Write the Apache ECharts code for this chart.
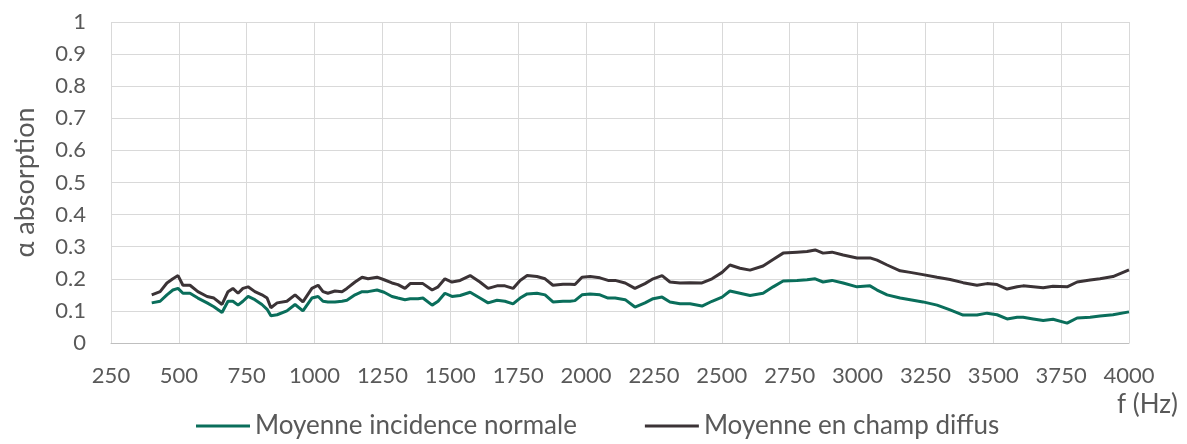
<!DOCTYPE html>
<html>
<head>
<meta charset="utf-8">
<script src="https://cdn.jsdelivr.net/npm/echarts@6/dist/echarts.min.js"></script>
<style>html,body{margin:0;padding:0;background:#fff}#c{width:1187px;height:444px}</style>
</head>
<body>
<div id="c"></div>
<script>
const freqs = [400,431,456,478,497,515,541,570,604,629,659,681,699,718,736,755,780,806,825,839,862,898,928,957,990,1013,1031,1049,1075,1101,1119,1149,1175,1197,1230,1256,1285,1307,1333,1352,1381,1399,1433,1455,1480,1506,1536,1573,1609,1639,1672,1701,1731,1757,1783,1819,1849,1878,1915,1941,1959,1985,2015,2051,2081,2107,2144,2180,2217,2247,2280,2309,2346,2383,2427,2464,2501,2530,2567,2604,2652,2689,2726,2777,2814,2844,2873,2906,2947,2998,3046,3072,3109,3157,3194,3241,3293,3341,3389,3440,3477,3514,3551,3588,3610,3647,3684,3720,3772,3809,3857,3893,3941,4000];
const diffus = [0.15,0.16,0.187,0.2,0.21,0.18,0.18,0.16,0.145,0.14,0.12,0.16,0.17,0.155,0.17,0.175,0.16,0.15,0.14,0.11,0.125,0.13,0.15,0.128,0.17,0.18,0.16,0.155,0.162,0.16,0.17,0.19,0.205,0.2,0.205,0.197,0.187,0.182,0.17,0.185,0.185,0.185,0.165,0.175,0.2,0.19,0.195,0.21,0.19,0.17,0.178,0.178,0.17,0.195,0.21,0.207,0.2,0.18,0.183,0.183,0.182,0.205,0.207,0.203,0.195,0.195,0.187,0.17,0.185,0.2,0.21,0.19,0.187,0.188,0.187,0.2,0.22,0.243,0.233,0.227,0.24,0.26,0.28,0.283,0.285,0.29,0.28,0.283,0.274,0.265,0.265,0.258,0.243,0.225,0.22,0.213,0.205,0.198,0.188,0.18,0.185,0.182,0.168,0.175,0.178,0.175,0.172,0.177,0.175,0.19,0.196,0.2,0.207,0.228];
const normale = [0.125,0.13,0.15,0.165,0.17,0.155,0.155,0.14,0.125,0.113,0.095,0.13,0.13,0.118,0.13,0.145,0.135,0.12,0.105,0.085,0.088,0.1,0.12,0.1,0.14,0.145,0.13,0.128,0.128,0.13,0.133,0.15,0.16,0.16,0.165,0.158,0.145,0.14,0.135,0.138,0.138,0.14,0.118,0.13,0.155,0.145,0.148,0.158,0.14,0.125,0.133,0.13,0.122,0.14,0.153,0.155,0.15,0.128,0.13,0.13,0.132,0.15,0.153,0.15,0.14,0.14,0.135,0.112,0.125,0.138,0.143,0.128,0.122,0.122,0.115,0.13,0.143,0.162,0.155,0.148,0.155,0.175,0.193,0.195,0.197,0.2,0.19,0.195,0.187,0.175,0.178,0.165,0.15,0.14,0.135,0.128,0.118,0.103,0.087,0.087,0.093,0.088,0.075,0.08,0.08,0.075,0.07,0.074,0.062,0.078,0.08,0.084,0.088,0.097];
const seriesNames = ['Moyenne incidence normale','Moyenne en champ diffus'];
const xTitle = 'f (Hz)';
const yTitle = 'α absorption';

const font = 'Lato';
const txt = '#595959';
const chart = echarts.init(document.getElementById('c'));
chart.setOption({
  animation: false,
  grid: {left: 111, right: 58, top: 22, bottom: 101},
  xAxis: {
    type: 'value', min: 250, max: 4000, interval: 250,
    axisLine: {show: true, lineStyle: {color: '#bfbfbf', width: 1}},
    axisTick: {show: false},
    splitLine: {show: true, lineStyle: {color: '#d9d9d9', width: 1}},
    axisLabel: {color: txt, fontSize: 22, fontFamily: font, margin: 22, formatter: v => String(v)}
  },
  yAxis: {
    type: 'value', min: 0, max: 1, interval: 0.1,
    axisLine: {show: false},
    axisTick: {show: false},
    splitLine: {show: true, lineStyle: {color: '#d9d9d9', width: 1}},
    axisLabel: {color: txt, fontSize: 22, fontFamily: font, margin: 25, formatter: v => String(+v.toFixed(1))},
    name: yTitle, nameLocation: 'middle', nameGap: 72, nameRotate: 90,
    nameTextStyle: {color: txt, fontSize: 27, fontFamily: font}
  },
  legend: {
    bottom: 0, left: 191, itemGap: 68, itemWidth: 54, itemHeight: 3,
    icon: 'rect',
    textStyle: {color: txt, fontSize: 26, fontFamily: font},
    data: seriesNames
  },
  graphic: [{type: 'text', right: 9, top: 392, style: {text: xTitle, fill: txt, font: '26px ' + font}}],
  series: [
    {name: seriesNames[0], type: 'line', showSymbol: false, smooth: false,
     lineStyle: {color: '#0a6e5b', width: 3}, itemStyle: {color: '#0a6e5b'},
     data: freqs.map((f, i) => [f, normale[i]])},
    {name: seriesNames[1], type: 'line', showSymbol: false, smooth: false,
     lineStyle: {color: '#3b3336', width: 3}, itemStyle: {color: '#3b3336'},
     data: freqs.map((f, i) => [f, diffus[i]])}
  ]
});
</script>
</body>
</html>
